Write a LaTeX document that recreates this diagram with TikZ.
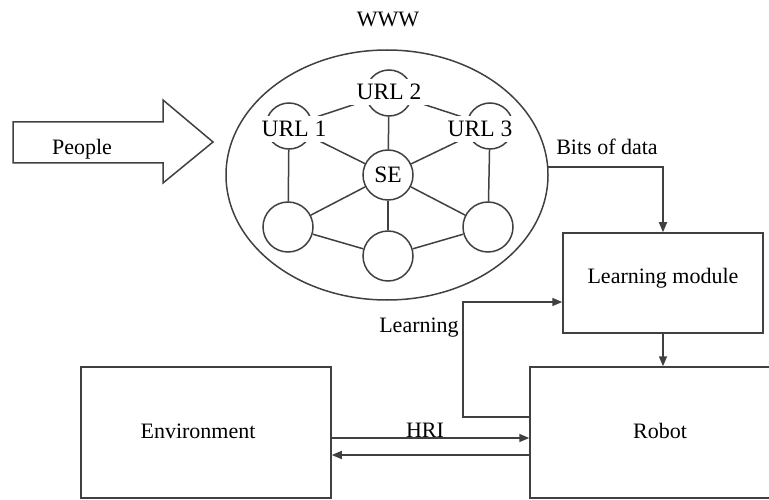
\documentclass[tikz,border=0pt]{standalone}
\usepackage{fontspec}
\setmainfont{Liberation Serif}
\usetikzlibrary{shapes.geometric,arrows.meta,calc}
\begin{document}
\begin{tikzpicture}[x=1pt,y=-1pt,
  ln/.style={draw=black!75, line width=1.5pt},
  arr/.style={ln, -{Triangle[length=10pt,width=8pt]}},
  boxnode/.style={ln, rectangle, inner sep=0pt},
  circ/.style={ln, circle, minimum size=50pt, inner sep=0pt},
  ucirc/.style={ln, circle, minimum size=46pt, inner sep=0pt},
  lbl/.style={font=\fontsize{22}{24}\selectfont, anchor=base, inner sep=0pt},
  urllbl/.style={font=\fontsize{23.5}{26}\selectfont, anchor=base, fill=white, inner xsep=7pt, inner ysep=5pt},
]
\useasboundingbox (0,0) rectangle (769,500);
\clip (0,0) rectangle (769,500);

% WWW cloud
\node[lbl] (wwwlbl) at (388,27) {WWW};
\node[ln, ellipse, minimum width=322pt, minimum height=250pt, inner sep=0pt] (www) at (387,175) {};

\node[ucirc] (u1) at (289,126) {};
\node[ucirc] (u2) at (389,93) {};
\node[ucirc] (u3) at (490,126) {};
\node[circ] (se) at (388,175) {};
\node[circ] (bl) at (288,227) {};
\node[circ] (bm) at (388,256) {};
\node[circ] (br) at (488,227) {};

\draw[ln] (u1) -- (u2);
\draw[ln] (u2) -- (u3);
\draw[ln] (u2) -- (se);
\draw[ln] (u1) -- (se);
\draw[ln] (u3) -- (se);
\draw[ln] (u1) -- (bl);
\draw[ln] (u3) -- (br);
\draw[ln] (se) -- (bl);
\draw[ln] (se) -- (bm);
\draw[ln] (se) -- (br);
\draw[ln] (bl) -- (bm);
\draw[ln] (bm) -- (br);

\node[urllbl] (u1lbl) at (294,137) {URL 1};
\node[urllbl] (u2lbl) at (389,100) {URL 2};
\node[urllbl] (u3lbl) at (480,137) {URL 3};
\node[lbl, font=\fontsize{23.5}{26}\selectfont] (selbl) at (388,183) {SE};

% People arrow
\draw[ln] (13,122) -- (163,122) -- (163,100) -- (213,142) -- (163,183) -- (163,163) -- (13,163) -- cycle;
\node[lbl] (people) at (82,155) {People};

% Learning module
\node[boxnode, minimum width=200pt, minimum height=100pt] (lm) at (663,283) {};
\node[lbl] (lmlbl) at (663,283) {Learning module};

% Robot and Environment
\node[boxnode, minimum width=245pt, minimum height=131pt] (robot) at (652.5,432.5) {};
\node[lbl] (robotlbl) at (660,438) {Robot};
\node[boxnode, minimum width=250pt, minimum height=131pt] (env) at (206,432.5) {};
\node[lbl] (envlbl) at (198,438) {Environment};

% Bits of data
\coordinate (bs) at (547.5,167);
\node[lbl] (bits) at (607,155) {Bits of data};
\draw[arr] (bs) -| (lm.north);

% Learning module -> Robot
\draw[arr] (lm.south) -- (lm.south |- robot.north);

% Learning feedback
\coordinate (fbs) at (530,417);
\coordinate (fbc) at (463,302);
\draw[arr] (fbs) -| (fbc) -- (lm.west |- fbc);
\node[lbl] (learnlbl) at (419,332) {Learning};

% HRI
\coordinate (h1) at (430,438);
\coordinate (h2) at (430,455);
\draw[arr] (env.east |- h1) -- (robot.west |- h1);
\draw[arr] (robot.west |- h2) -- (env.east |- h2);
\node[lbl] (hri) at (425,437) {HRI};
\end{tikzpicture}
\end{document}
